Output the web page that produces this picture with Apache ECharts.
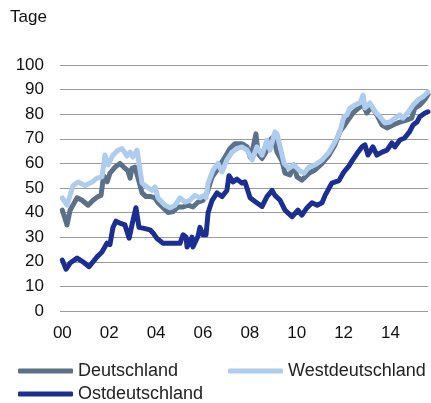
<!DOCTYPE html>
<html>
<head>
<meta charset="utf-8">
<script src="https://cdn.jsdelivr.net/npm/echarts@6/dist/echarts.min.js"></script>
<style>
  html, body { margin: 0; padding: 0; background: #fff; }
  #chart { width: 431px; height: 403px; }
</style>
</head>
<body>
<div id="chart"></div>
<script>
// Jahre auf der x-Achse
var yearTicks = [2000, 2002, 2004, 2006, 2008, 2010, 2012, 2014];
var seriesNames = ['Deutschland', 'Westdeutschland', 'Ostdeutschland'];

// Werte in Tagen, [Jahr, Wert]
var deutschland = [
    [2000.0, 41], [2000.2, 35], [2000.33, 41], [2000.63, 46], [2000.84, 45], [2001.1, 43],
    [2001.31, 45], [2001.52, 46.5], [2001.65, 47], [2001.76, 55], [2001.91, 52.5], [2002.03, 56],
    [2002.25, 58.5], [2002.46, 60], [2002.67, 58], [2002.8, 57], [2002.89, 54], [2002.97, 58],
    [2003.1, 58.5], [2003.23, 54], [2003.4, 48], [2003.57, 46.5], [2003.78, 46.5], [2003.95, 46],
    [2004.08, 44], [2004.3, 42], [2004.51, 40], [2004.72, 40.4], [2004.94, 42.3], [2005.15, 42.3],
    [2005.36, 43], [2005.57, 42.3], [2005.79, 44.3], [2006.0, 45], [2006.17, 48], [2006.39, 54.5],
    [2006.6, 57.3], [2006.73, 59.4], [2006.94, 62.6], [2007.15, 66], [2007.36, 68], [2007.66, 68],
    [2007.88, 66.7], [2008.01, 62.6], [2008.14, 66.7], [2008.26, 72], [2008.35, 64], [2008.52, 62],
    [2008.73, 65.4], [2008.86, 69.5], [2008.99, 70.7], [2009.16, 64.6], [2009.37, 61], [2009.5, 56],
    [2009.71, 55.3], [2009.88, 59.4], [2010.01, 54.5], [2010.22, 53.2], [2010.52, 56], [2010.78, 57.3],
    [2011.08, 60], [2011.38, 63.4], [2011.63, 67.5], [2011.84, 73], [2012.01, 75], [2012.14, 77],
    [2012.4, 80.5], [2012.7, 83], [2012.83, 83.7], [2012.99, 80.5], [2013.2, 83], [2013.42, 79.7],
    [2013.64, 75.6], [2013.85, 74.4], [2014.11, 75.6], [2014.4, 76.8], [2014.68, 77.6], [2014.9, 78.4],
    [2015.04, 82.5], [2015.25, 83.7], [2015.47, 86], [2015.6, 88]
];
var westdeutschland = [
    [2000.0, 46], [2000.2, 43], [2000.46, 51], [2000.67, 52.4], [2000.97, 51], [2001.27, 52.4],
    [2001.48, 54], [2001.69, 54.5], [2001.82, 63.4], [2001.95, 59.4], [2002.03, 60], [2002.16, 63.4],
    [2002.38, 65.4], [2002.55, 66], [2002.76, 63], [2002.89, 64.6], [2003.01, 62.6], [2003.19, 65.4],
    [2003.27, 60], [2003.4, 52], [2003.61, 50.4], [2003.83, 49], [2003.95, 50.4], [2004.08, 46],
    [2004.17, 45], [2004.38, 43], [2004.6, 42], [2004.81, 43], [2005.02, 46], [2005.23, 44.3],
    [2005.44, 45], [2005.66, 47], [2005.87, 46], [2006.05, 47], [2006.13, 46], [2006.22, 52],
    [2006.43, 57.3], [2006.64, 60], [2006.81, 56.5], [2007.02, 61.4], [2007.24, 64.6], [2007.45, 66],
    [2007.66, 66.7], [2007.88, 65.4], [2008.1, 61.4], [2008.3, 66.7], [2008.52, 63.4], [2008.73, 69.5],
    [2008.86, 65.4], [2009.07, 72.8], [2009.16, 72], [2009.29, 66.7], [2009.46, 60], [2009.67, 58],
    [2009.88, 59.4], [2010.09, 57.3], [2010.31, 56], [2010.52, 58.5], [2010.78, 59.4], [2011.08, 61.4],
    [2011.38, 64.6], [2011.63, 68.7], [2011.84, 72.8], [2012.01, 79], [2012.14, 79.7], [2012.27, 82.5],
    [2012.48, 83.7], [2012.7, 84.6], [2012.83, 87.8], [2012.91, 82.5], [2013.12, 84.6], [2013.34, 81],
    [2013.55, 79], [2013.76, 76.4], [2013.98, 76.8], [2014.19, 78.4], [2014.4, 79.7], [2014.53, 78.4],
    [2014.73, 80.5], [2014.96, 83.7], [2015.17, 85.8], [2015.38, 87], [2015.6, 89]
];
var ostdeutschland = [
    [2000.0, 20.7], [2000.16, 17], [2000.33, 19.5], [2000.63, 21.5], [2000.88, 20], [2001.14, 18],
    [2001.48, 22], [2001.69, 24], [2001.91, 27.6], [2002.03, 27], [2002.16, 34], [2002.29, 36.5],
    [2002.46, 35.7], [2002.67, 35], [2002.85, 29.6], [2002.97, 35], [2003.14, 42], [2003.27, 34],
    [2003.44, 33.7], [2003.74, 33], [2003.87, 31.7], [2004.04, 29.5], [2004.3, 27.5], [2004.72, 27.5],
    [2005.02, 27.5], [2005.15, 31], [2005.28, 30], [2005.32, 26], [2005.53, 30], [2005.57, 26],
    [2005.79, 30.5], [2005.87, 34], [2006.0, 31], [2006.13, 31], [2006.22, 40], [2006.39, 45],
    [2006.6, 48], [2006.81, 46.5], [2007.02, 49], [2007.11, 55], [2007.28, 52.5], [2007.45, 53.6],
    [2007.66, 52], [2007.79, 52.5], [2008.01, 46], [2008.22, 44.5], [2008.52, 42.5], [2008.73, 46.5],
    [2008.95, 49], [2009.07, 47], [2009.29, 45], [2009.5, 41], [2009.8, 38.3], [2010.05, 41],
    [2010.22, 39], [2010.44, 42], [2010.65, 44], [2010.87, 43], [2011.08, 44], [2011.21, 47],
    [2011.5, 52], [2011.8, 53], [2012.01, 56.5], [2012.23, 59], [2012.36, 61], [2012.57, 64],
    [2012.78, 66.7], [2012.91, 67.5], [2013.04, 63.4], [2013.25, 66.7], [2013.42, 63.4], [2013.64, 64.6],
    [2013.85, 65.4], [2014.06, 68.3], [2014.19, 66.7], [2014.4, 69.5], [2014.6, 70.3], [2014.81, 72.8],
    [2014.96, 75.6], [2015.13, 76.8], [2015.25, 79], [2015.47, 80.5], [2015.6, 81]
];

var colors = ['#5b7189', '#aecdee', '#1b2f92'];
var font = 'Liberation Sans, Arial, sans-serif';

var myChart = echarts.init(document.getElementById('chart'));

var lineSeries = function (name, data, color) {
    return {
        name: name,
        type: 'line',
        data: data,
        showSymbol: false,
        color: color,
        lineStyle: { width: 5, color: color, cap: 'round', join: 'round' },
        emphasis: { disabled: true }
    };
};

// eine Legende pro Eintrag, damit die Positionen wie im Original sitzen
var legendAt = function (name, left, top) {
    return {
        data: [name],
        icon: 'roundRect',
        itemWidth: 55,
        itemHeight: 5,
        left: left,
        top: top,
        textStyle: { fontSize: 18, color: '#222', fontFamily: font }
    };
};

var option = {
    animation: false,
    graphic: [{
        type: 'text',
        left: 10,
        top: 9,
        style: { text: 'Tage', fontSize: 17, fill: '#111', fontFamily: font }
    }],
    legend: [
        legendAt(seriesNames[0], 13, 357),
        legendAt(seriesNames[1], 223, 357),
        legendAt(seriesNames[2], 13, 380)
    ],
    grid: { left: 60, right: 3, top: 65, bottom: 92, containLabel: false },
    xAxis: {
        type: 'value',
        min: 1999.9,
        max: 2015.6,
        axisLine: { show: false },
        axisTick: { show: false },
        splitLine: { show: false },
        axisLabel: {
            customValues: yearTicks,
            margin: 14,
            fontSize: 17,
            color: '#111',
            fontFamily: font,
            formatter: function (v) {
                var y = Math.round(v) % 100;
                return (y < 10 ? '0' : '') + y;
            }
        }
    },
    yAxis: {
        type: 'value',
        min: 0,
        max: 100,
        interval: 10,
        axisLine: { show: false },
        axisTick: { show: false },
        axisLabel: { margin: 16, fontSize: 17, color: '#111', fontFamily: font },
        splitLine: { lineStyle: { color: '#9a9a9a', width: 1 } }
    },
    series: [
        lineSeries(seriesNames[0], deutschland, colors[0]),
        lineSeries(seriesNames[1], westdeutschland, colors[1]),
        lineSeries(seriesNames[2], ostdeutschland, colors[2])
    ]
};
myChart.setOption(option);
</script>
</body>
</html>
